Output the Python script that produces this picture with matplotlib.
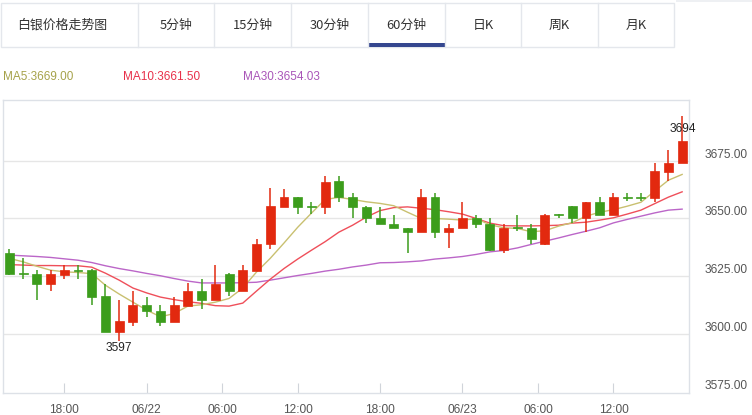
import matplotlib
matplotlib.use("Agg")
import matplotlib.pyplot as plt
from matplotlib.patches import Rectangle
import numpy as np

plt.rcParams['font.family'] = ['Liberation Sans', 'Noto Sans CJK SC', 'DejaVu Sans']

# ---- data ----
opens = [3635.0, 3626.2, 3626.0, 3621.6, 3625.7, 3627.6, 3627.7, 3616.5, 3601.1, 3605.4,
         3612.5, 3610.2, 3605.4, 3612.3, 3618.7, 3614.8, 3626.0, 3618.7, 3627.4, 3638.8,
         3655.0, 3659.1, 3655.5, 3655.0, 3666.1, 3659.1, 3655.1, 3650.0, 3647.8, 3645.7,
         3644.0, 3659.2, 3644.0, 3645.7, 3650.0, 3647.8, 3636.3, 3646.3, 3646.0, 3638.8,
         3651.8, 3655.3, 3650.0, 3656.9, 3651.4, 3659.2, 3659.2, 3658.9, 3670.1, 3674.1]
highs = [3636.8, 3632.8, 3627.7, 3627.7, 3629.9, 3629.9, 3628.0, 3621.6, 3614.8, 3618.8,
         3616.2, 3612.5, 3616.2, 3622.0, 3623.7, 3629.9, 3626.3, 3629.9, 3641.0, 3663.2,
         3662.9, 3659.3, 3657.2, 3668.2, 3668.2, 3661.2, 3655.3, 3655.0, 3651.7, 3645.9,
         3662.9, 3661.2, 3647.7, 3657.2, 3651.7, 3650.0, 3647.8, 3651.7, 3647.8, 3652.0,
         3651.8, 3655.5, 3657.0, 3659.1, 3661.2, 3660.8, 3660.8, 3674.1, 3679.4, 3694.0]
lows = [3625.5, 3624.1, 3615.0, 3618.8, 3624.1, 3624.1, 3612.6, 3601.0, 3597.0, 3603.6,
        3607.6, 3603.7, 3605.4, 3612.3, 3610.8, 3614.8, 3616.7, 3618.7, 3627.4, 3636.9,
        3655.0, 3652.0, 3652.0, 3652.0, 3657.2, 3650.4, 3648.2, 3647.8, 3645.7, 3635.3,
        3644.0, 3641.4, 3637.1, 3645.7, 3646.0, 3636.0, 3635.2, 3644.5, 3639.2, 3638.6,
        3650.3, 3648.1, 3644.2, 3651.4, 3651.4, 3657.5, 3657.5, 3657.2, 3666.2, 3674.1]
closes = [3625.9, 3626.0, 3621.6, 3625.9, 3627.7, 3627.3, 3616.2, 3601.1, 3605.7, 3612.6,
          3610.2, 3605.4, 3612.5, 3618.7, 3614.8, 3621.7, 3618.7, 3627.7, 3638.9, 3655.3,
          3659.1, 3655.0, 3655.2, 3665.8, 3659.1, 3655.0, 3650.0, 3647.8, 3645.7, 3644.0,
          3659.2, 3644.0, 3645.7, 3650.3, 3647.8, 3636.3, 3646.0, 3646.0, 3641.0, 3651.7,
          3651.5, 3650.0, 3656.9, 3651.4, 3659.1, 3659.0, 3659.0, 3670.4, 3674.1, 3683.3]

ma5 = [3632.8, 3631.3, 3629.4, 3627.7, 3627.0, 3626.7, 3626.2, 3621.2, 3617.4, 3613.9,
       3610.5, 3607.6, 3609.0, 3612.2, 3612.8, 3613.9, 3615.5, 3620.0, 3626.9, 3632.8,
       3639.4, 3646.2, 3652.3, 3658.2, 3659.1, 3658.2, 3657.2, 3656.5, 3655.5, 3652.7,
       3650.0, 3650.0, 3649.7, 3649.3, 3649.9, 3647.3, 3646.0, 3645.7, 3644.3, 3644.7,
       3646.7, 3648.2, 3651.0, 3652.7, 3653.8, 3655.3, 3657.0, 3661.8, 3666.5, 3669.0]
ma10 = [3630.1, 3629.9, 3629.7, 3629.7, 3629.6, 3629.6, 3629.0, 3626.4, 3623.4, 3620.0,
        3617.9, 3616.1, 3615.0, 3614.1, 3613.4, 3612.4, 3612.2, 3613.5, 3618.7, 3623.8,
        3628.4, 3632.5, 3636.3, 3640.0, 3644.1, 3647.1, 3650.6, 3653.4, 3654.7, 3655.0,
        3654.4, 3653.8, 3652.9, 3651.9, 3650.0, 3648.0, 3646.9, 3646.8, 3646.8, 3646.9,
        3647.1, 3648.0, 3648.4, 3649.3, 3650.3, 3651.9, 3653.6, 3656.4, 3659.2, 3661.5]
ma30 = [3634.2, 3633.9, 3633.6, 3633.2, 3632.6, 3632.0, 3631.0, 3629.6, 3628.4, 3627.4,
        3626.3, 3625.3, 3624.1, 3623.0, 3622.2, 3622.2, 3622.2, 3622.3, 3622.5, 3623.4,
        3624.4, 3625.4, 3626.3, 3627.3, 3628.1, 3629.1, 3629.9, 3630.9, 3631.0, 3631.3,
        3631.7, 3632.5, 3633.0, 3633.6, 3634.5, 3635.6, 3636.2, 3637.3, 3638.8, 3640.2,
        3641.6, 3643.1, 3644.5, 3646.0, 3648.1, 3649.6, 3651.0, 3652.4, 3653.6, 3654.03]

xtick_pos = [4, 10, 15.5, 21, 27, 33, 38.5, 44]
xtick_labels = ["18:00", "06/22", "06:00", "12:00", "18:00", "06/23", "06:00", "12:00"]
yticks = [3575, 3600, 3625, 3650, 3675]
ytick_labels = ["3575.00", "3600.00", "3625.00", "3650.00", "3675.00"]

tabs = ["白银价格走势图", "5分钟", "15分钟", "30分钟", "60分钟", "日K", "周K", "月K"]
legend_texts = ["MA5:3669.00", "MA10:3661.50", "MA30:3654.03"]

# ---- styles ----
RED = '#e2290f'
GREEN = '#3c9d1c'
C_MA5 = '#c9c070'
C_MA10 = '#ef4f5a'
C_MA30 = '#bb66c8'
BORDER = '#dde1e7'

W, H = 752, 415
fig = plt.figure(figsize=(W / 100, H / 100), dpi=100)

# main chart axes
left, right, top, bottom = 2.5, 689, 100, 393.3
ax = fig.add_axes([left / W, (H - bottom) / H, (right - left) / W, (bottom - top) / H])
n = len(opens)
x = np.arange(n)
ax.set_xlim(-0.5, n - 0.5)
ax.set_ylim(3574.6, 3701.1)

for y in yticks[1:]:
    ax.axhline(y, color='#e6e6e6', lw=1.0, zorder=0)

ax.plot(x, ma30, color=C_MA30, lw=1.0, zorder=2)
ax.plot(x, ma10, color=C_MA10, lw=1.0, zorder=2)
ax.plot(x, ma5, color=C_MA5, lw=1.0, zorder=2)

bw = 0.65
for i in range(n):
    o, h, l, c = opens[i], highs[i], lows[i], closes[i]
    col = RED if c >= o else GREEN
    ax.vlines(x[i], l, h, color=col, lw=1.1, zorder=3)
    lo = min(o, c)
    hgt = max(abs(c - o), 0.45)
    if abs(c - o) < 0.45:
        lo = (o + c) / 2 - hgt / 2
    ax.add_patch(Rectangle((x[i] - bw / 2, lo), bw, hgt, facecolor=col,
                           edgecolor=col, lw=0.5, zorder=4))

imax = int(np.argmax(highs))
imin = int(np.argmin(lows))
ax.annotate(f"{highs[imax]:.0f}", (x[imax], highs[imax]), xytext=(1, -13),
            textcoords='offset pixels', ha='center', va='center', fontsize=8.6,
            color='#222222', zorder=5)
ax.annotate(f"{lows[imin]:.0f}", (x[imin], lows[imin]), xytext=(0, -7),
            textcoords='offset pixels', ha='center', va='center', fontsize=8.6,
            color='#222222', zorder=5)

ax.set_xticks(xtick_pos)
ax.set_xticklabels(xtick_labels)
ax.tick_params(axis='x', direction='in', length=7.2, width=0.8, color='#d0d4da',
               labelsize=8.6, labelcolor='#555555', pad=8)
ax.yaxis.tick_right()
ax.set_yticks(yticks)
ax.set_yticklabels(ytick_labels)
ax.tick_params(axis='y', length=0, labelsize=8.6, labelcolor='#555555', pad=11.5)
for lab in ax.get_yticklabels():
    lab.set_verticalalignment('bottom')
for s in ax.spines.values():
    s.set_color(BORDER)
    s.set_linewidth(1.0)

# header overlay (pixel coordinates)
ov = fig.add_axes([0, 0, 1, 1], zorder=-1)
ov.set_xlim(0, W)
ov.set_ylim(H, 0)
ov.axis('off')
dividers = [0, 138, 214, 291, 368, 445, 521, 598, 674]
ov.add_patch(Rectangle((0.5, 3), 673.5, 44, facecolor='white', edgecolor='#e4e7ec', lw=1))
for d in dividers[1:-1]:
    ov.plot([d, d], [3, 47], color='#e4e7ec', lw=1)
for i, t in enumerate(tabs):
    cx = (dividers[i] + dividers[i + 1]) / 2
    if i == 0:
        cx = 62
    ov.text(cx, 25.5, t, ha='center', va='center', fontsize=9.3, color='#333333',
            family=['Noto Sans CJK SC'])
ov.add_patch(Rectangle((368, 43), 77, 4, facecolor='#35478f', edgecolor='none'))
ov.add_patch(Rectangle((676, 0), 76, 2, facecolor='#eef0f3', edgecolor='none'))

leg_x = [3, 123, 243]
for lx, t, c in zip(leg_x, legend_texts, ['#a6a24a', '#e8304a', '#a955b8']):
    ov.text(lx, 76.5, t, ha='left', va='center', fontsize=8.5, color=c)

fig.savefig('out.png', dpi=100)
